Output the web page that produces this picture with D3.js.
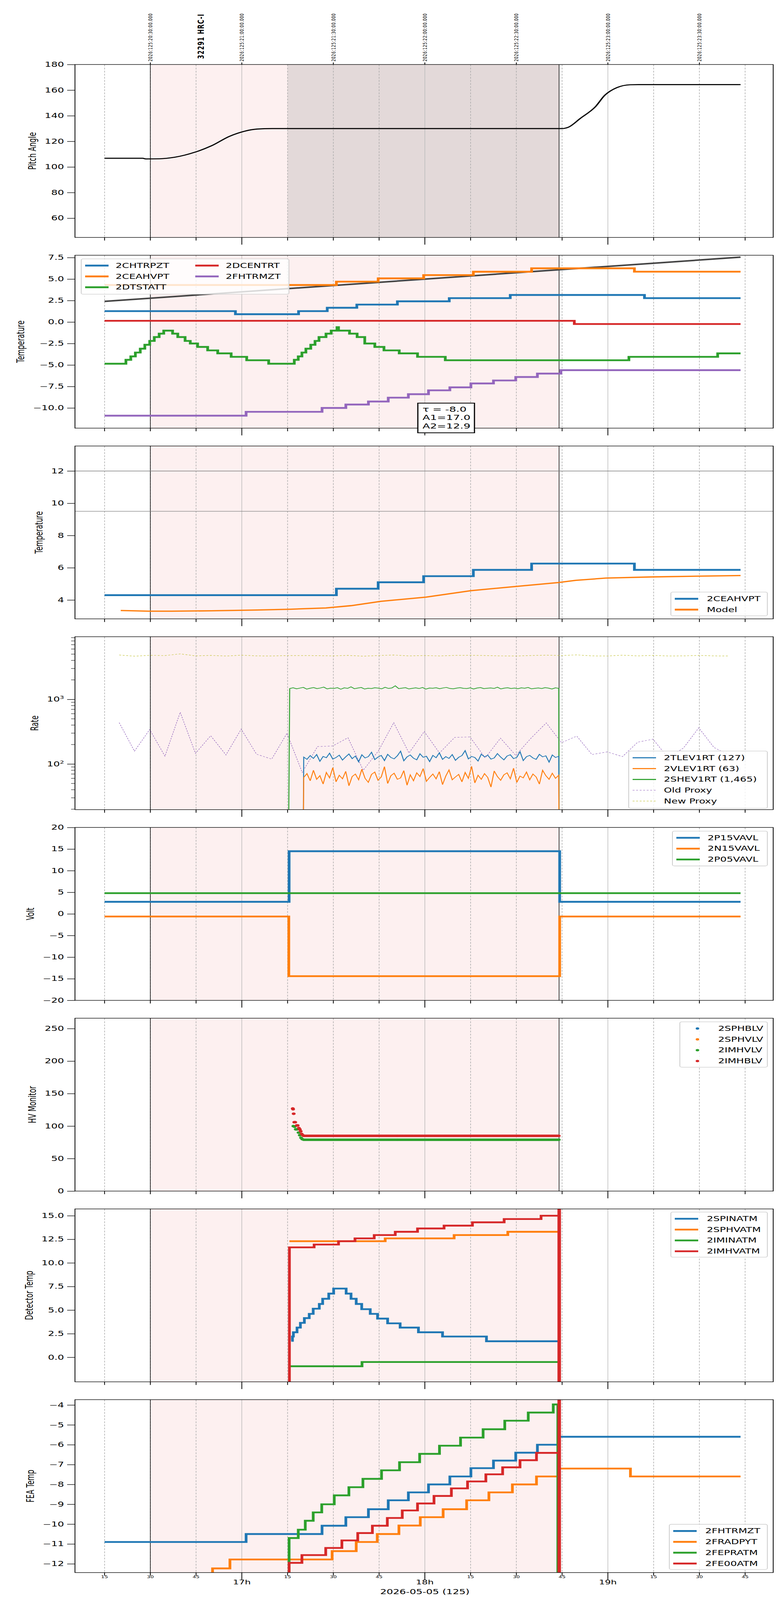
<!DOCTYPE html>
<html>
<head>
<meta charset="utf-8">
<script src="https://d3js.org/d3.v7.min.js"></script>
<style>
  html, body { margin: 0; padding: 0; background: #fff; width: 100%; height: 100%; overflow: hidden; }
  svg { display: block; width: 100vw; height: 100vh; }
  text { font-family: "DejaVu Sans", sans-serif; }
</style>
</head>
<body>
<!-- drawn in 2000x6200 units, stretched to whatever window the page gets -->
<svg id="chart" viewBox="0 0 2000 6200" preserveAspectRatio="none"></svg>
<script>
// time in minutes after 20:00 (UTC) on 2026:125
var xDomain = [5.3, 234.2];
var obsStart = 30, obsStop = 164, dwellStart = 75;
var topTicks = [30, 60, 90, 120, 150, 180, 210];

// panel 1 - pitch
var pitch = [[15,106.8],[27.5,106.8],[28.5,106.3],[33,106.4],[38,107.6],[44.7,111.6],[50,116.5],[56,124],[61,128],[65,129.6],[70,130],[165,130],[167,131],[171,138],[175.9,147],[179,156],[183,162],[187.3,164.2],[190,164.3],[223.5,164.3]];

// panel 2 - temperatures
var chtrpzt = [[15,1.27],[57.9,0.91],[78.6,1.27],[88,1.66],[97.7,2.03],[111,2.41],[128,2.78],[148,3.15],[192,2.78],[223.5,2.78]];
var ceahvpt = [[15,4.31],[91,4.70],[104.7,5.08],[119.6,5.46],[135.9,5.85],[155,6.25],[188.7,5.86],[223.5,5.86]];
var dcentrt = [[15,0.14],[169,-0.23],[223.5,-0.23]];
var dtstatt = [[15,-4.85],[22,-4.4],[23.6,-4.0],[25.1,-3.55],[26.7,-3.1],[28.2,-2.65],[29.8,-2.2],[31.3,-1.75],[32.9,-1.35],[34.4,-1.0],[37.3,-1.35],[39,-1.75],[41.4,-2.2],[43.1,-2.5],[45.5,-2.9],[48.8,-3.3],[52.1,-3.65],[56.5,-4.05],[61.6,-4.45],[68.8,-4.85],[77.2,-4.4],[78.5,-4.0],[79.7,-3.55],[81,-3.1],[82.6,-2.65],[84,-2.2],[85.3,-1.75],[87.6,-1.35],[89.3,-1.0],[91.2,-0.6],[91.7,-1.0],[95.3,-1.35],[97.8,-1.75],[100.3,-2.5],[103.6,-2.9],[106.6,-3.3],[111.6,-3.65],[117.6,-4.05],[126.7,-4.45],[186.9,-4.05],[216,-3.65],[223.5,-3.65]];
var fhtrmzt2 = [[15,-10.9],[61.4,-10.45],[86.3,-10.0],[94.1,-9.6],[101.5,-9.25],[108,-8.8],[114.6,-8.4],[121.2,-7.95],[128.2,-7.6],[135.1,-7.15],[142.5,-6.8],[149.8,-6.4],[156.9,-6.0],[164.6,-5.6],[223.5,-5.6]];
var trend = [[15,2.4],[223.5,7.55]];
var fitText = ["\u03c4 = -8.0", "A1=17.0", "A2=12.9"];

// panel 3 - 2CEAHVPT vs model
var ceahvpt3 = [[15,4.3],[91,4.7],[104.7,5.1],[119.6,5.48],[135.9,5.87],[155,6.26],[188.7,5.87],[223.5,5.87]];
var model = [[20.3,3.35],[29.5,3.31],[37,3.31],[50,3.33],[65,3.38],[76,3.43],[87.6,3.51],[95.8,3.65],[105.6,3.92],[120.4,4.18],[135.1,4.58],[149.8,4.84],[163.7,5.08],[169.5,5.22],[179.3,5.36],[194,5.43],[223.5,5.52]];
var limits3 = [12, 9.5];

// panel 4 - rates (log)
var proxyT0 = 19.8, proxyStep = 5.0;
var oldProxy = [436,158,341,132,631,146,274,138,347,142,119,299,74,186,190,255,80,160,436,148,318,148,258,262,124,251,136,251,432,214,270,140,154,130,218,242,124,177,363,180,136];
var newProxy = [4850,4650,4800,4750,5050,4700,4780,4680,4820,4700,4690,4750,4760,4740,4700,4780,4650,4760,4850,4700,4760,4690,4780,4800,4760,4700,4680,4760,4820,4760,4870,4700,4680,4820,4700,4780,4690,4700,4780,4700,4680];
var rateT = [80.3, 163.9], shevT = [75.7, 163.9];
var tlev1rt = [128,118,135,122,140,110,131,125,147,119,126,137,115,129,143,121,133,108,139,124,130,152,117,128,136,113,141,126,120,134,158,112,129,138,123,116,144,127,132,109,136,125,149,118,130,122,140,114,127,135,161,120,131,126,111,142,129,137,119,124,145,128,116,133,139,121,127,155,113,130,136,124,118,141,129,134,107,138,126,132];
var vlev1rt = [62,71,55,80,58,66,49,74,61,88,53,67,59,77,46,64,70,57,83,60,52,69,75,56,63,91,50,66,72,58,61,79,47,68,55,73,64,85,54,62,70,59,76,48,65,81,57,63,69,53,74,60,92,51,67,58,71,62,44,78,64,56,68,73,59,86,52,65,61,75,57,70,63,49,80,66,58,72,60,67];
var shev1rt = [1470,1510,1455,1495,1530,1440,1485,1520,1465,1500,1545,1450,1490,1475,1515,1435,1505,1480,1560,1460,1495,1525,1445,1485,1470,1510,1490,1455,1535,1475,1500,1620,1465,1490,1515,1450,1480,1505,1470,1525,1440,1495,1485,1510,1460,1500,1530,1475,1455,1490,1515,1480,1470,1505,1445,1495,1520,1465,1485,1500,1475,1540,1450,1490,1510,1470,1495,1460,1505,1485,1525,1455,1480,1500,1470,1515,1490,1445,1505,1480];

// panel 5 - volts
var p15vavl = [[15,2.8],[75.5,14.5],[164.2,2.8],[223.5,2.8]];
var n15vavl = [[15,-0.6],[75.4,-14.4],[164.2,-0.6],[223.5,-0.6]];
var p05vavl = [[15,4.8],[223.5,4.8]];

// panel 6 - HV monitor
var imhblvStart = [[76.7,127],[76.8,126],[77.0,119],[77.2,106],[77.5,106],[78.0,101],[78.3,101],[78.7,97],[79.0,95],[79.3,92],[79.6,88],[80.0,86]];
var imhvlvStart = [[76.9,100],[77.3,99],[77.7,95],[78.1,95],[78.6,90],[79.0,86],[79.4,82],[79.8,80]];
var imhblvLevel = 85, imhvlvLevel = 79, hvFlat = [80.3, 164.2];

// panel 7 - detector temps
var spinatm = [[76.2,1.75],[76.6,2.2],[76.9,2.65],[78.1,3.15],[79.2,3.65],[80.5,4.15],[82.1,4.6],[83.4,5.15],[85.4,5.65],[86.5,6.2],[88.5,6.75],[90.1,7.28],[94.2,6.75],[95.8,6.2],[97.5,5.65],[99.3,5.1],[102.1,4.6],[104.5,4.1],[107.8,3.6],[111.9,3.15],[117.9,2.65],[125.8,2.2],[140.2,1.7],[163.8,1.7]];
var sphvatm = [[75.6,12.3],[107,12.6],[129.6,12.95],[147.2,13.3],[163.8,13.3]];
var iminatm = [[75.6,-0.95],[99.4,-0.5],[163.8,-0.5]];
var imhvatm = [[75.55,-20],[75.6,11.65],[83.7,11.95],[91.7,12.3],[97.1,12.6],[103.4,12.95],[110.3,13.3],[117.6,13.65],[126.3,13.95],[135.6,14.3],[146,14.65],[158.1,15.0],[164.0,40],[164.1,-40]];

// panel 8 - FEA temps
var fhtrmzt = [[15,-10.9],[61.4,-10.5],[86.3,-10.08],[94.1,-9.65],[101.5,-9.25],[108,-8.8],[114.6,-8.4],[121.2,-8.0],[128.2,-7.6],[135.1,-7.18],[142.5,-6.8],[149.8,-6.4],[156.9,-6.0],[163.8,-5.6],[223.5,-5.6]];
var fradpyt = [[45,-12.7],[50.4,-12.23],[56.1,-11.78],[89.6,-11.36],[97.5,-10.9],[104.4,-10.5],[111.5,-10.07],[118.5,-9.65],[126,-9.25],[133.7,-8.8],[141,-8.4],[148.7,-8.0],[156.6,-7.6],[163.8,-7.2],[187.4,-7.6],[223.5,-7.6]];
var fepratm = [[75.4,-13],[75.5,-10.7],[78.5,-10.28],[80.8,-9.83],[83.4,-9.41],[86.2,-9.0],[90.3,-8.55],[95.1,-8.14],[99.7,-7.72],[105.8,-7.29],[111.7,-6.88],[118.3,-6.46],[124.8,-6.05],[131.7,-5.64],[139.1,-5.22],[146.2,-4.79],[153.9,-4.38],[162.1,-3.97],[163.6,-13]];
var fe00atm = [[75.4,-13],[75.5,-11.95],[79.7,-11.56],[87.5,-11.2],[92.8,-10.82],[98,-10.45],[102.8,-10.08],[107.7,-9.69],[112.6,-9.31],[117.6,-8.96],[123,-8.58],[128.7,-8.2],[134,-7.85],[140,-7.49],[145.5,-7.14],[151.2,-6.78],[156.6,-6.41],[164.0,0],[164.1,-20]];

var C = {blue:"#1f77b4", orange:"#ff7f0e", green:"#2ca02c", red:"#d62728", purple:"#9467bd", olive:"#bcbd22"};

var svg = d3.select("#chart");
var L = 192, R = 1980, PH = 670, STEP = 739.1, TOP0 = 250;
var x = d3.scaleLinear().domain(xDomain).range([L, R]);
var quarters = d3.range(15, 235, 15);

function sampled(vals, span) {
  var n = vals.length;
  return vals.map(function(v, i) { return [span[0] + (span[1] - span[0]) * i / (n - 1), v]; });
}

function panel(i, yScale, ylabel, opts) {
  opts = opts || {};
  var top = TOP0 + i * STEP;
  yScale.range([top + PH, top]);
  var g = svg.append("g");
  var id = "clip" + i;
  svg.append("clipPath").attr("id", id).append("rect").attr("x", L).attr("y", top).attr("width", R - L).attr("height", PH);
  var bg = g.append("g");
  bg.append("rect").attr("x", x(obsStart)).attr("y", top).attr("width", x(obsStop) - x(obsStart)).attr("height", PH).attr("fill", "#fdf0f0");
  if (opts.dwell) bg.append("rect").attr("x", x(dwellStart)).attr("y", top).attr("width", x(obsStop) - x(dwellStart)).attr("height", PH).attr("fill", "#e3d9d9");
  quarters.forEach(function(q) {
    var hour = q % 60 === 0;
    bg.append("line").attr("x1", x(q)).attr("x2", x(q)).attr("y1", top).attr("y2", top + PH)
      .attr("stroke", hour ? "#bbb" : "#aaa").attr("stroke-width", 1.5).attr("stroke-dasharray", hour ? null : "7,5");
  });
  [obsStart, obsStop].forEach(function(t) {
    bg.append("line").attr("x1", x(t)).attr("x2", x(t)).attr("y1", top).attr("y2", top + PH).attr("stroke", "#000").attr("stroke-width", 1.5);
  });
  (opts.hlines || []).forEach(function(v) {
    bg.append("line").attr("x1", L).attr("x2", R).attr("y1", yScale(v)).attr("y2", yScale(v)).attr("stroke", "#808080").attr("stroke-width", 2);
  });
  var plot = g.append("g").attr("clip-path", "url(#" + id + ")");
  var ya = g.append("g").attr("transform", "translate(" + L + ",0)");
  if (opts.log) {
    ya.call(d3.axisLeft(yScale).tickValues([100, 1000]).tickSize(20).tickPadding(8).tickFormat(function() { return ""; }));
    ya.selectAll(".tick").each(function(d) {
      var t = d3.select(this).select("text").text("10");
      t.append("tspan").attr("dy", "-0.6em").attr("font-size", "17px").text(d === 100 ? "2" : "3");
    });
    var minors = [];
    [10, 100, 1000].forEach(function(b) { for (var k = 2; k < 10; k++) minors.push(b * k); });
    minors = minors.filter(function(v) { return v > yScale.domain()[0] && v < yScale.domain()[1]; });
    ya.selectAll(".minor").data(minors).enter().append("line").attr("x1", -10).attr("x2", 0)
      .attr("y1", function(d) { return yScale(d); }).attr("y2", function(d) { return yScale(d); }).attr("stroke", "#000").attr("stroke-width", 1.5);
  } else {
    ya.call(d3.axisLeft(yScale).tickValues(opts.ticks).tickSize(20).tickPadding(8).tickFormat(d3.format(opts.fmt || "d")));
  }
  ya.select(".domain").remove();
  ya.selectAll(".tick line").attr("stroke-width", 2);
  ya.selectAll("text").attr("font-size", "26px").attr("fill", "#000");
  var w = ya.node().getBBox().width;
  g.append("text").attr("transform", "translate(" + (L - w - 22) + "," + (top + PH / 2) + ") rotate(-90)")
    .attr("text-anchor", "middle").attr("font-size", "26px").text(ylabel);
  var xa = g.append("g");
  quarters.forEach(function(q) {
    var hour = q % 60 === 0;
    xa.append("line").attr("x1", x(q)).attr("x2", x(q)).attr("y1", top + PH).attr("y2", top + PH + (hour ? 28 : 12)).attr("stroke", "#000").attr("stroke-width", 2);
  });
  g.append("rect").attr("x", L).attr("y", top).attr("width", R - L).attr("height", PH).attr("fill", "none").attr("stroke", "#000").attr("stroke-width", 2);
  return {plot: plot, g: g, top: top, y: yScale};
}

function stepLine(p, data, color, width, curve) {
  return p.plot.append("path").datum(data).attr("fill", "none").attr("stroke", color).attr("stroke-width", width)
    .attr("d", d3.line().curve(curve || d3.curveStepAfter).x(function(d) { return x(d[0]); }).y(function(d) { return p.y(d[1]); }));
}

function legend(p, items, o) {
  var lg = p.g.append("g").attr("transform", "translate(" + o.x + "," + o.y + ")");
  lg.append("rect").attr("width", o.w).attr("height", o.h).attr("rx", 5).attr("fill", "#fff").attr("fill-opacity", 0.8).attr("stroke", "#ccc").attr("stroke-width", 2);
  items.forEach(function(it, k) {
    var col = Math.floor(k / o.rows), row = k % o.rows;
    var cx = 10 + col * (o.colW || 0), cy = 26 + row * 42;
    if (it.dot) {
      lg.append("circle").attr("cx", cx + 35).attr("cy", cy).attr("r", 4.5).attr("fill", it.color);
    } else {
      lg.append("line").attr("x1", cx).attr("x2", cx + 60).attr("y1", cy).attr("y2", cy).attr("stroke", it.color)
        .attr("stroke-width", it.w || 7).attr("stroke-dasharray", it.dash || null);
    }
    lg.append("text").attr("x", cx + (o.tx || 80)).attr("y", cy).attr("dy", "0.35em").attr("font-size", "26px").text(it.label);
  });
}

var LW = 7;

// ---- panel 1
var p1 = panel(0, d3.scaleLinear().domain([45, 180]), "Pitch Angle", {dwell: true, ticks: d3.range(60, 181, 20)});
stepLine(p1, pitch, "#000", 4, d3.curveMonotoneX);
topTicks.forEach(function(t) {
  p1.g.append("line").attr("x1", x(t)).attr("x2", x(t)).attr("y1", p1.top).attr("y2", p1.top - 8).attr("stroke", "#000").attr("stroke-width", 2);
  var hh = 20 + Math.floor(t / 60), mm = t % 60;
  p1.g.append("text").attr("transform", "translate(" + (x(t) + 5) + "," + (p1.top - 12) + ") rotate(-90)")
    .attr("font-size", "14px").attr("letter-spacing", "1px").text("2026:125:" + hh + ":" + d3.format("02d")(mm) + ":00.000");
});
p1.g.append("text").attr("transform", "translate(" + (x(46.4) + 9) + "," + (p1.top - 22) + ") rotate(-90)")
  .attr("font-size", "22px").attr("font-weight", "bold").attr("letter-spacing", "2px").text("32291 HRC-I");

// ---- panel 2
var p2 = panel(1, d3.scaleLinear().domain([-12.35, 7.77]), "Temperature", {ticks: [-10, -7.5, -5, -2.5, 0, 2.5, 5, 7.5], fmt: ".1f"});
stepLine(p2, trend, "#444", 6, d3.curveLinear);
stepLine(p2, chtrpzt, C.blue, LW);
stepLine(p2, ceahvpt, C.orange, LW);
stepLine(p2, dtstatt, C.green, LW);
stepLine(p2, dcentrt, C.red, LW);
stepLine(p2, fhtrmzt2, C.purple, LW);
legend(p2, [{label:"2CHTRPZT",color:C.blue},{label:"2CEAHVPT",color:C.orange},{label:"2DTSTATT",color:C.green},{label:"2DCENTRT",color:C.red},{label:"2FHTRMZT",color:C.purple}],
  {x: 208, y: p2.top + 14, w: 532, h: 137, rows: 3, colW: 282, tx: 78});
var fb = p2.g.append("g").attr("transform", "translate(1070," + (p2.top + PH - 97) + ")");
fb.append("rect").attr("width", 145).attr("height", 115).attr("fill", "#fff").attr("stroke", "#000").attr("stroke-width", 3);
fitText.forEach(function(s, k) { fb.append("text").attr("x", 12).attr("y", 24 + k * 32).attr("dy", "0.35em").attr("font-size", "28px").text(s); });

// ---- panel 3
var p3 = panel(2, d3.scaleLinear().domain([2.83, 13.55]), "Temperature", {ticks: [4, 6, 8, 10, 12], hlines: limits3});
stepLine(p3, ceahvpt3, C.blue, LW);
stepLine(p3, model, C.orange, 5, d3.curveLinear);
legend(p3, [{label:"2CEAHVPT",color:C.blue},{label:"Model",color:C.orange}], {x: 1718, y: p3.top + 566, w: 247, h: 92, rows: 2, tx: 82});

// ---- panel 4
var p4 = panel(3, d3.scaleLog().domain([19.7, 9300]), "Rate", {log: true});
var prox = function(v) { return v.map(function(d, k) { return [proxyT0 + k * proxyStep, d]; }); };
stepLine(p4, prox(newProxy), C.olive, 1.5, d3.curveLinear).attr("stroke-dasharray", "5,4");
stepLine(p4, prox(oldProxy), C.purple, 1.5, d3.curveLinear).attr("stroke-dasharray", "5,4");
stepLine(p4, [[shevT[0] - 0.4, 5]].concat(sampled(shev1rt, shevT)).concat([[shevT[1] + 0.1, 5]]), C.green, 2.5, d3.curveLinear);
stepLine(p4, [[rateT[0] - 0.2, 5]].concat(sampled(tlev1rt, rateT)).concat([[rateT[1] + 0.1, 5]]), C.blue, 2.5, d3.curveLinear);
stepLine(p4, [[rateT[0] - 0.2, 5]].concat(sampled(vlev1rt, rateT)).concat([[rateT[1] + 0.1, 5]]), C.orange, 2.5, d3.curveLinear);
legend(p4, [{label:"2TLEV1RT (127)",color:C.blue,w:4},{label:"2VLEV1RT (63)",color:C.orange,w:4},{label:"2SHEV1RT (1,465)",color:C.green,w:4},
  {label:"Old Proxy",color:C.purple,w:1.5,dash:"5,4"},{label:"New Proxy",color:C.olive,w:1.5,dash:"5,4"}],
  {x: 1610, y: p4.top + 443, w: 355, h: 222, rows: 5, tx: 80});

// ---- panel 5
var p5 = panel(4, d3.scaleLinear().domain([-20, 20]), "Volt", {ticks: d3.range(-20, 21, 5)});
stepLine(p5, p15vavl, C.blue, LW);
stepLine(p5, n15vavl, C.orange, LW);
stepLine(p5, p05vavl, C.green, LW);
legend(p5, [{label:"2P15VAVL",color:C.blue},{label:"2N15VAVL",color:C.orange},{label:"2P05VAVL",color:C.green}], {x: 1722, y: p5.top + 14, w: 243, h: 135, rows: 3, tx: 80});

// ---- panel 6
var p6 = panel(5, d3.scaleLinear().domain([0, 266]), "HV Monitor", {ticks: d3.range(0, 251, 50)});
function dots(p, data, color) {
  p.plot.selectAll(null).data(data).enter().append("circle").attr("cx", function(d) { return x(d[0]); }).attr("cy", function(d) { return p.y(d[1]); }).attr("r", 5).attr("fill", color);
}
var flatT = d3.range(hvFlat[0], hvFlat[1], 0.4);
dots(p6, imhvlvStart.concat(flatT.map(function(t) { return [t, imhvlvLevel]; })), C.green);
dots(p6, imhblvStart.concat(flatT.map(function(t) { return [t, imhblvLevel]; })), C.red);
legend(p6, [{label:"2SPHBLV",color:C.blue,dot:true},{label:"2SPHVLV",color:C.orange,dot:true},{label:"2IMHVLV",color:C.green,dot:true},{label:"2IMHBLV",color:C.red,dot:true}],
  {x: 1741, y: p6.top + 14, w: 224, h: 176, rows: 4, tx: 88});

// ---- panel 7
var p7 = panel(6, d3.scaleLinear().domain([-2.6, 15.72]), "Detector Temp", {ticks: [0, 2.5, 5, 7.5, 10, 12.5, 15], fmt: ".1f"});
stepLine(p7, spinatm, C.blue, LW);
stepLine(p7, sphvatm, C.orange, LW);
stepLine(p7, iminatm, C.green, LW);
stepLine(p7, imhvatm, C.red, LW);
p7.plot.append("line").attr("x1", x(164.05)).attr("x2", x(164.05)).attr("y1", p7.top).attr("y2", p7.top + PH).attr("stroke", C.red).attr("stroke-width", 9);
legend(p7, [{label:"2SPINATM",color:C.blue},{label:"2SPHVATM",color:C.orange},{label:"2IMINATM",color:C.green},{label:"2IMHVATM",color:C.red}], {x: 1718, y: p7.top + 12, w: 247, h: 175, rows: 4, tx: 82});

// ---- panel 8
var p8 = panel(7, d3.scaleLinear().domain([-12.44, -3.73]), "FEA Temp", {ticks: d3.range(-12, -3, 1)});
stepLine(p8, fhtrmzt, C.blue, LW);
stepLine(p8, fradpyt, C.orange, LW);
stepLine(p8, fepratm, C.green, LW);
stepLine(p8, fe00atm, C.red, LW);
p8.plot.append("line").attr("x1", x(164.05)).attr("x2", x(164.05)).attr("y1", p8.top).attr("y2", p8.top + PH).attr("stroke", C.red).attr("stroke-width", 9);
legend(p8, [{label:"2FHTRMZT",color:C.blue},{label:"2FRADPYT",color:C.orange},{label:"2FEPRATM",color:C.green},{label:"2FE00ATM",color:C.red}], {x: 1714, y: p8.top + 483, w: 251, h: 175, rows: 4, tx: 82});

// bottom time labels
var base = p8.top + PH;
quarters.forEach(function(q) {
  if (q % 60 === 0) {
    svg.append("text").attr("x", x(q)).attr("y", base + 46).attr("text-anchor", "middle").attr("font-size", "24px").text((16 + q / 60) + "h");
  } else {
    svg.append("text").attr("x", x(q)).attr("y", base + 22).attr("text-anchor", "middle").attr("font-size", "14px").text(q % 60);
  }
});
svg.append("text").attr("x", x(120)).attr("y", base + 84).attr("text-anchor", "middle").attr("font-size", "26px").text("2026-05-05 (125)");
</script>
</body>
</html>
